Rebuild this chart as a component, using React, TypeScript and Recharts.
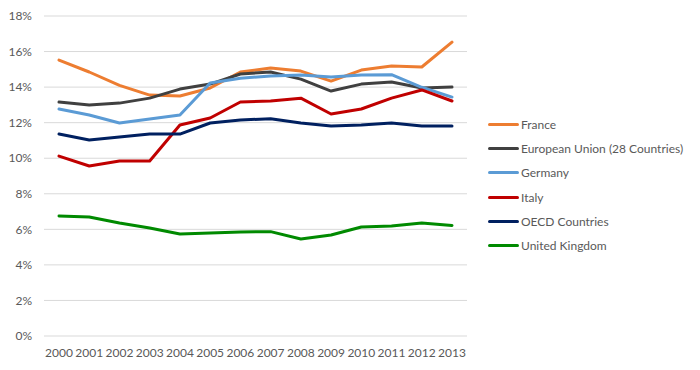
import React from 'react';
import { LineChart, Line, XAxis, YAxis, CartesianGrid, Legend } from 'recharts';

const years = ['2000', '2001', '2002', '2003', '2004', '2005', '2006', '2007', '2008', '2009', '2010', '2011', '2012', '2013'];

const france = [15.52, 14.85, 14.1, 13.55, 13.5, 13.95, 14.85, 15.07, 14.9, 14.34, 14.96, 15.19, 15.13, 16.53];
const eu28 = [13.16, 12.99, 13.1, 13.38, 13.89, 14.17, 14.74, 14.85, 14.45, 13.78, 14.17, 14.29, 13.95, 14.0];
const germany = [12.77, 12.43, 11.98, 12.2, 12.43, 14.23, 14.5, 14.62, 14.68, 14.57, 14.68, 14.7, 13.99, 13.44];
const italy = [10.12, 9.56, 9.84, 9.84, 11.87, 12.26, 13.16, 13.22, 13.38, 12.49, 12.77, 13.38, 13.84, 13.22];
const oecd = [11.36, 11.02, 11.19, 11.36, 11.36, 11.98, 12.15, 12.22, 11.98, 11.81, 11.87, 11.98, 11.81, 11.81];
const uk = [6.75, 6.69, 6.36, 6.07, 5.74, 5.79, 5.85, 5.87, 5.46, 5.68, 6.13, 6.19, 6.36, 6.22];

const yTicks = [0, 2, 4, 6, 8, 10, 12, 14, 16, 18];

const series = [
  { key: 'France', values: france, color: '#ED7D31' },
  { key: 'European Union (28 Countries)', values: eu28, color: '#404040' },
  { key: 'Germany', values: germany, color: '#5B9BD5' },
  { key: 'Italy', values: italy, color: '#C00000' },
  { key: 'OECD Countries', values: oecd, color: '#002060' },
  { key: 'United Kingdom', values: uk, color: '#008A00' },
];

const data = years.map((year, i) => {
  const row: Record<string, string | number> = { year };
  series.forEach(s => {
    row[s.key] = s.values[i];
  });
  return row;
});

const FONT = 'Lato, "Open Sans", sans-serif';
const TEXT = '#595959';

const LegendList: React.FC = () => (
  <div style={{ fontFamily: FONT, fontSize: 12, color: TEXT }}>
    {series.map(s => (
      <div key={s.key} style={{ display: 'flex', alignItems: 'center', height: 24.3 }}>
        <span style={{ display: 'inline-block', width: 31, height: 3, background: s.color, borderRadius: 2, marginRight: 2 }} />
        <span>{s.key}</span>
      </div>
    ))}
  </div>
);

export default function App() {
  return (
    <div style={{ position: 'absolute', left: 0, top: 0, width: 700, height: 370, background: '#fff' }}>
      <LineChart width={700} height={370} data={data} margin={{ top: 16, right: 233, bottom: 0, left: 0 }}>
        <CartesianGrid vertical={false} stroke="#D9D9D9" strokeWidth={1} />
        <XAxis
          dataKey="year"
          axisLine={false}
          tickLine={false}
          height={34}
          padding={{ left: 15, right: 15 }}
          tick={{ fill: TEXT, fontSize: 12, fontFamily: FONT }}
          tickMargin={6}
          interval={0}
        />
        <YAxis
          width={44}
          domain={[0, 18]}
          ticks={yTicks}
          axisLine={false}
          tickLine={false}
          tickMargin={6}
          tick={{ fill: TEXT, fontSize: 12, fontFamily: FONT }}
          tickFormatter={(v) => `${v}%`}
        />
        <Legend
          layout="vertical"
          align="center"
          verticalAlign="middle"
          wrapperStyle={{ left: 488, top: 112, width: 210 }}
          content={() => <LegendList />}
        />
        {series.map(s => (
          <Line
            key={s.key}
            type="linear"
            dataKey={s.key}
            stroke={s.color}
            strokeWidth={3}
            strokeLinecap="round"
            strokeLinejoin="round"
            dot={false}
            activeDot={false}
            isAnimationActive={false}
          />
        ))}
      </LineChart>
    </div>
  );
}
